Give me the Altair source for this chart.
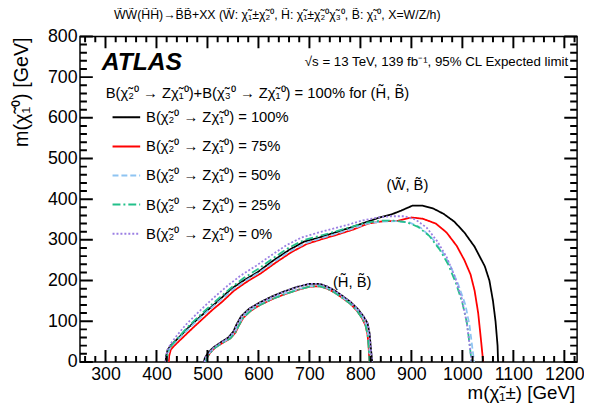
import altair as alt
import pandas as pd

CHI = "\u03c7\u0303"
series_names = [
    "B(" + CHI + "₂⁰ → Z" + CHI + "₁⁰) = 100%",
    "B(" + CHI + "₂⁰ → Z" + CHI + "₁⁰) = 75%",
    "B(" + CHI + "₂⁰ → Z" + CHI + "₁⁰) = 50%",
    "B(" + CHI + "₂⁰ → Z" + CHI + "₁⁰) = 25%",
    "B(" + CHI + "₂⁰ → Z" + CHI + "₁⁰) = 0%",
]
series_colors = ["#000000", "#ff0000", "#8ec4f2", "#22c08a", "#9b7fe3"]
series_dash = [[1, 0], [1, 0], [6, 3], [8, 3, 2, 3], [2, 2]]

# (W~, B~) contours
wb100_x = [418, 419, 422, 429, 444, 463, 483, 503, 523, 547, 571, 600, 630, 660, 690, 720, 750, 780, 810, 840, 860, 880, 902, 922, 943, 963, 984, 1004, 1024, 1044, 1053, 1060, 1065, 1069, 1070]
wb100_y = [0, 15, 30, 42, 60, 85, 108, 130, 152, 180, 200, 222, 250, 275, 296, 306, 318, 330, 343, 356, 362, 372, 384, 384, 377, 364, 345, 318, 283, 235, 200, 150, 100, 40, 0]
wb75_x = [424, 425, 428, 435, 450, 470, 490, 509, 529, 552, 576, 605, 635, 665, 695, 725, 755, 785, 815, 845, 870, 900, 922, 948, 969, 989, 1004, 1016, 1024, 1031, 1036, 1040, 1041]
wb75_y = [0, 15, 30, 40, 58, 82, 105, 127, 148, 175, 196, 218, 245, 270, 290, 302, 313, 325, 340, 346, 346, 355, 352, 340, 318, 285, 250, 215, 175, 120, 60, 10, 0]
wb50_x = [421, 422, 425, 432, 446, 466, 486, 505, 525, 550, 574, 603, 633, 663, 693, 723, 753, 783, 813, 843, 870, 896, 918, 940, 961, 977, 992, 1006, 1014, 1019, 1022, 1023]
wb50_y = [0, 15, 30, 42, 60, 85, 108, 130, 151, 178, 199, 221, 248, 273, 292, 304, 315, 327, 340, 345, 346, 343, 330, 305, 270, 235, 190, 140, 90, 40, 10, 0]
wb25_x = [420, 421, 424, 431, 444, 463, 483, 502, 522, 547, 571, 600, 630, 660, 690, 720, 750, 780, 810, 840, 865, 891, 913, 935, 956, 972, 987, 1000, 1009, 1014, 1017, 1018]
wb25_y = [0, 15, 30, 43, 62, 88, 112, 134, 156, 183, 206, 229, 256, 281, 300, 310, 320, 331, 342, 347, 347, 343, 332, 310, 275, 240, 195, 145, 95, 45, 12, 0]
wb0_x = [418, 419, 422, 428, 440, 458, 478, 497, 517, 542, 566, 595, 625, 655, 685, 715, 745, 775, 805, 835, 860, 886, 908, 930, 951, 969, 985, 999, 1008, 1014, 1017, 1018]
wb0_y = [0, 15, 30, 45, 65, 92, 117, 140, 163, 190, 213, 236, 262, 287, 306, 317, 327, 337, 348, 355, 358, 358, 350, 330, 296, 258, 210, 155, 100, 45, 12, 0]

# (H~, B~) contours
hb100_x = [493, 495, 501, 511, 526, 541, 551, 557, 566, 581, 601, 625, 650, 675, 700, 720, 735, 750, 765, 780, 795, 806, 814, 818, 820, 822, 823]
hb100_y = [0, 10, 22, 35, 48, 60, 75, 92, 112, 130, 145, 160, 173, 184, 192, 192, 185, 175, 162, 148, 130, 112, 95, 70, 40, 15, 0]
hb75_x = [497, 499, 505, 515, 530, 545, 555, 561, 570, 585, 605, 630, 655, 680, 700, 720, 735, 750, 765, 780, 793, 803, 810, 814, 816, 817, 818]
hb75_y = [0, 10, 22, 35, 47, 58, 72, 88, 108, 126, 141, 156, 168, 178, 185, 186, 180, 170, 157, 143, 126, 108, 90, 67, 40, 15, 0]
hb50_x = [496, 498, 504, 514, 529, 544, 554, 560, 569, 584, 604, 629, 654, 679, 700, 720, 735, 750, 765, 780, 794, 804, 811, 815, 817, 818, 819]
hb50_y = [0, 10, 22, 35, 47, 59, 73, 89, 109, 127, 142, 157, 169, 179, 186, 187, 181, 171, 158, 144, 127, 109, 91, 68, 40, 15, 0]
hb25_x = [497, 499, 505, 515, 530, 545, 555, 561, 570, 585, 605, 630, 655, 680, 700, 720, 735, 750, 765, 780, 793, 803, 810, 814, 816, 817, 818]
hb25_y = [0, 10, 22, 35, 47, 58, 72, 88, 108, 126, 141, 156, 168, 178, 185, 186, 180, 170, 157, 143, 126, 108, 90, 67, 40, 15, 0]
hb0_x = [494, 496, 502, 512, 527, 542, 552, 558, 567, 582, 602, 626, 651, 676, 700, 720, 735, 750, 765, 780, 795, 806, 814, 818, 820, 822, 823]
hb0_y = [0, 10, 22, 35, 48, 60, 75, 92, 112, 130, 145, 160, 173, 184, 192, 192, 185, 175, 162, 148, 130, 112, 95, 70, 40, 15, 0]

x_labels = [300, 400, 500, 600, 700, 800, 900, 1000, 1100, 1200]
y_labels = [0, 100, 200, 300, 400, 500, 600, 700, 800]
x_minor = [v for v in range(260, 1225, 20) if v % 100 != 0]
y_minor = [v for v in range(20, 800, 20) if v % 100 != 0]

FONT = "Liberation Sans"
W, H = 504, 330
XDOM = [250, 1225]
YDOM = [0, 800]
px_y = (YDOM[1] - YDOM[0]) / H
px_x = (XDOM[1] - XDOM[0]) / W

curves = [
    ("WB", series_names[0], wb100_x, wb100_y),
    ("WB", series_names[1], wb75_x, wb75_y),
    ("WB", series_names[2], wb50_x, wb50_y),
    ("WB", series_names[3], wb25_x, wb25_y),
    ("WB", series_names[4], wb0_x, wb0_y),
    ("HB", series_names[0], hb100_x, hb100_y),
    ("HB", series_names[1], hb75_x, hb75_y),
    ("HB", series_names[2], hb50_x, hb50_y),
    ("HB", series_names[3], hb25_x, hb25_y),
    ("HB", series_names[4], hb0_x, hb0_y),
]
rows = []
for grp, name, xs, ys in curves:
    for i, (a, b) in enumerate(zip(xs, ys)):
        rows.append({"series": name, "key": grp + name, "i": i, "x": a, "y": b, "sw": 1.8})

TICK = "tick"
def add_xticks(vals, length, top, tag):
    for v in vals:
        y0 = YDOM[1] if top else YDOM[0]
        y1 = y0 - length * px_y if top else y0 + length * px_y
        k = "xt" + tag + str(v)
        rows.append({"series": TICK, "key": k, "i": 0, "x": v, "y": y0, "sw": 2})
        rows.append({"series": TICK, "key": k, "i": 1, "x": v, "y": y1, "sw": 2})

def add_yticks(vals, length, right, tag):
    for v in vals:
        x0 = XDOM[1] if right else XDOM[0]
        x1 = x0 - length * px_x if right else x0 + length * px_x
        k = "yt" + tag + str(v)
        rows.append({"series": TICK, "key": k, "i": 0, "x": x0, "y": v, "sw": 2})
        rows.append({"series": TICK, "key": k, "i": 1, "x": x1, "y": v, "sw": 2})

add_xticks(x_labels, 12, False, "bM")
add_xticks(x_minor, 6, False, "bm")
add_xticks(x_labels, 12, True, "tM")
add_xticks(x_minor, 6, True, "tm")
add_yticks(y_labels, 13, False, "lM")
add_yticks(y_minor, 7, False, "lm")
add_yticks(y_labels, 13, True, "rM")
add_yticks(y_minor, 7, True, "rm")

df = pd.DataFrame(rows)

xscale = alt.Scale(domain=XDOM, nice=False, zero=False)
yscale = alt.Scale(domain=YDOM, nice=False)
xaxis = alt.Axis(values=x_labels, ticks=False, domain=False, grid=False, labelFontSize=18, format="d",
                 labelFont=FONT, labelColor="black", labelPadding=4, labelFlush=False, title="")
yaxis = alt.Axis(values=y_labels, ticks=False, domain=False, grid=False, labelFontSize=18, format="d",
                 labelFont=FONT, labelColor="black", labelPadding=3, labelFlush=False, title="")

leg = alt.Legend(orient="none", legendX=32, legendY=67, symbolType="stroke", symbolSize=784,
                 symbolStrokeWidth=2, labelFontSize=15, labelFont=FONT, labelColor="black",
                 labelOffset=5, rowPadding=6.5, padding=0, title=None, labelLimit=400,
                 values=series_names)

lines = alt.Chart(df).mark_line().encode(
    x=alt.X("x:Q", scale=xscale, axis=xaxis),
    y=alt.Y("y:Q", scale=yscale, axis=yaxis),
    color=alt.Color("series:N", scale=alt.Scale(domain=series_names + [TICK],
                                                range=series_colors + ["#000000"]), legend=leg),
    strokeDash=alt.StrokeDash("series:N", scale=alt.Scale(domain=series_names + [TICK],
                                                          range=series_dash + [[1, 0]]), legend=leg),
    strokeWidth=alt.StrokeWidth("sw:Q", scale=None, legend=None),
    detail="key:N",
    order=alt.Order("i:Q"),
)


def txt(s, x, y, size=15, align="left", **kw):
    return alt.Chart(pd.DataFrame({"t": [s]})).mark_text(
        align=align, baseline="middle", font=FONT, fontSize=size, color="black", **kw
    ).encode(x=alt.value(x), y=alt.value(y), text="t:N")


title_str = ("W\u0303W\u0303(H\u0303H\u0303)→B\u0303B\u0303+XX (W\u0303: " + CHI + "₁±" + CHI + "₂⁰,  H\u0303: "
             + CHI + "₁±" + CHI + "₂⁰" + CHI + "₃⁰, B\u0303: " + CHI + "₁⁰, X=W/Z/h)")
header = "B(" + CHI + "₂⁰ → Z" + CHI + "₁⁰)+B(" + CHI + "₃⁰ → Z" + CHI + "₁⁰) = 100% for (H\u0303, B\u0303)"

texts = [
    txt(title_str, 200, -22, 12.5, align="center"),
    txt("ATLAS", 22, 26, 25, fontWeight="bold", fontStyle="italic"),
    txt("√s = 13 TeV, 139 fb⁻¹, 95% CL Expected limit", 495, 26, 13.5, align="right"),
    txt(header, 26, 57, 15),
    txt("(W\u0303, B\u0303)", 332, 151, 15, align="center"),
    txt("(H\u0303, B\u0303)", 276, 249, 15, align="center"),
    txt("m(" + CHI + "₁±) [GeV]", 502, 362, 19, align="right"),
    txt("m(" + CHI + "₁⁰) [GeV]", -59, 1, 20, align="right", angle=270),
]

chart = alt.layer(lines, *texts).properties(
    width=W, height=H,
    autosize=alt.AutoSizeParams(type="none"),
    padding={"left": 73, "top": 26, "right": 7, "bottom": 51},
).configure_view(stroke="black", strokeWidth=1.5)

chart.save("out.html", embed_options={"renderer": "svg", "actions": False})
